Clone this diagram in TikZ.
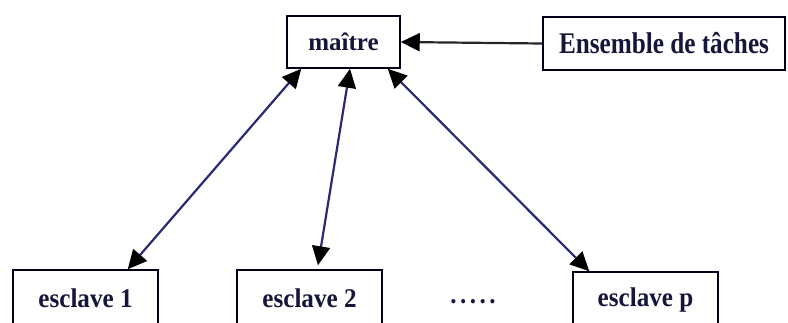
\documentclass[tikz,border=0pt]{standalone}
\usepackage{fontspec}
\setmainfont{Liberation Serif}
\newfontfamily\narrowserif[FakeStretch=0.84]{Liberation Serif}
\newfontfamily\slimserif[FakeStretch=0.93]{Liberation Serif}
\usetikzlibrary{arrows.meta}
\definecolor{ink}{HTML}{16163A}
\definecolor{wire}{HTML}{2A2A72}
\begin{document}
\begin{tikzpicture}[x=1pt,y=-1pt,
  box/.style={draw=black!90!blue, line width=1.5pt, fill=white, rectangle,
    inner sep=0pt, text=ink},
  link/.style={draw=wire, line width=2.2pt, {Triangle[length=19pt,width=18pt,color=black]}-{Triangle[length=19pt,width=18pt,color=black]}},
  feed/.style={draw=black!85, line width=2.2pt, -{Triangle[length=19pt,width=18pt,color=black]}},
  slavefont/.style={font=\slimserif\bfseries\fontsize{27}{29}\selectfont}]
  \useasboundingbox (0,0) rectangle (788,322);
  \clip (0,0) rectangle (788,322);

  % master and task pool
  \node[box, minimum width=113pt, minimum height=52pt,
        font=\bfseries\fontsize{25}{27}\selectfont] (m) at (343.5,42) {maître};
  \node[box, minimum width=242pt, minimum height=53pt,
        font=\narrowserif\bfseries\fontsize{30}{32}\selectfont] (t) at (664,43.5) {Ensemble de tâches};

  % slaves (cut by the lower edge)
  \node[box, slavefont, minimum width=145pt, minimum height=56pt] (e1) at (85.5,298) {esclave 1};
  \node[box, slavefont, minimum width=145pt, minimum height=56pt] (e2) at (309.5,298) {esclave 2};
  \node[box, slavefont, minimum width=145pt, minimum height=56pt] (ep) at (645.5,300) {esclave p};
  \node[text=ink, slavefont] (dots) at (473,302) {.\kern3.5pt.\kern3.5pt.\kern3.5pt.\kern3.5pt.};

  % task feed
  \draw[feed] (t.west) -- (m.east);

  % master <-> slave links
  \draw[link] ([xshift=-31pt]e1.north east) -- ([xshift=15pt]m.south west);
  \draw[link] ([xshift=8.5pt,yshift=4pt]e2.north) -- ([xshift=6.5pt]m.south);
  \draw[link] ([xshift=17pt]ep.north west) -- ([xshift=-13pt]m.south east);
\end{tikzpicture}
\end{document}
